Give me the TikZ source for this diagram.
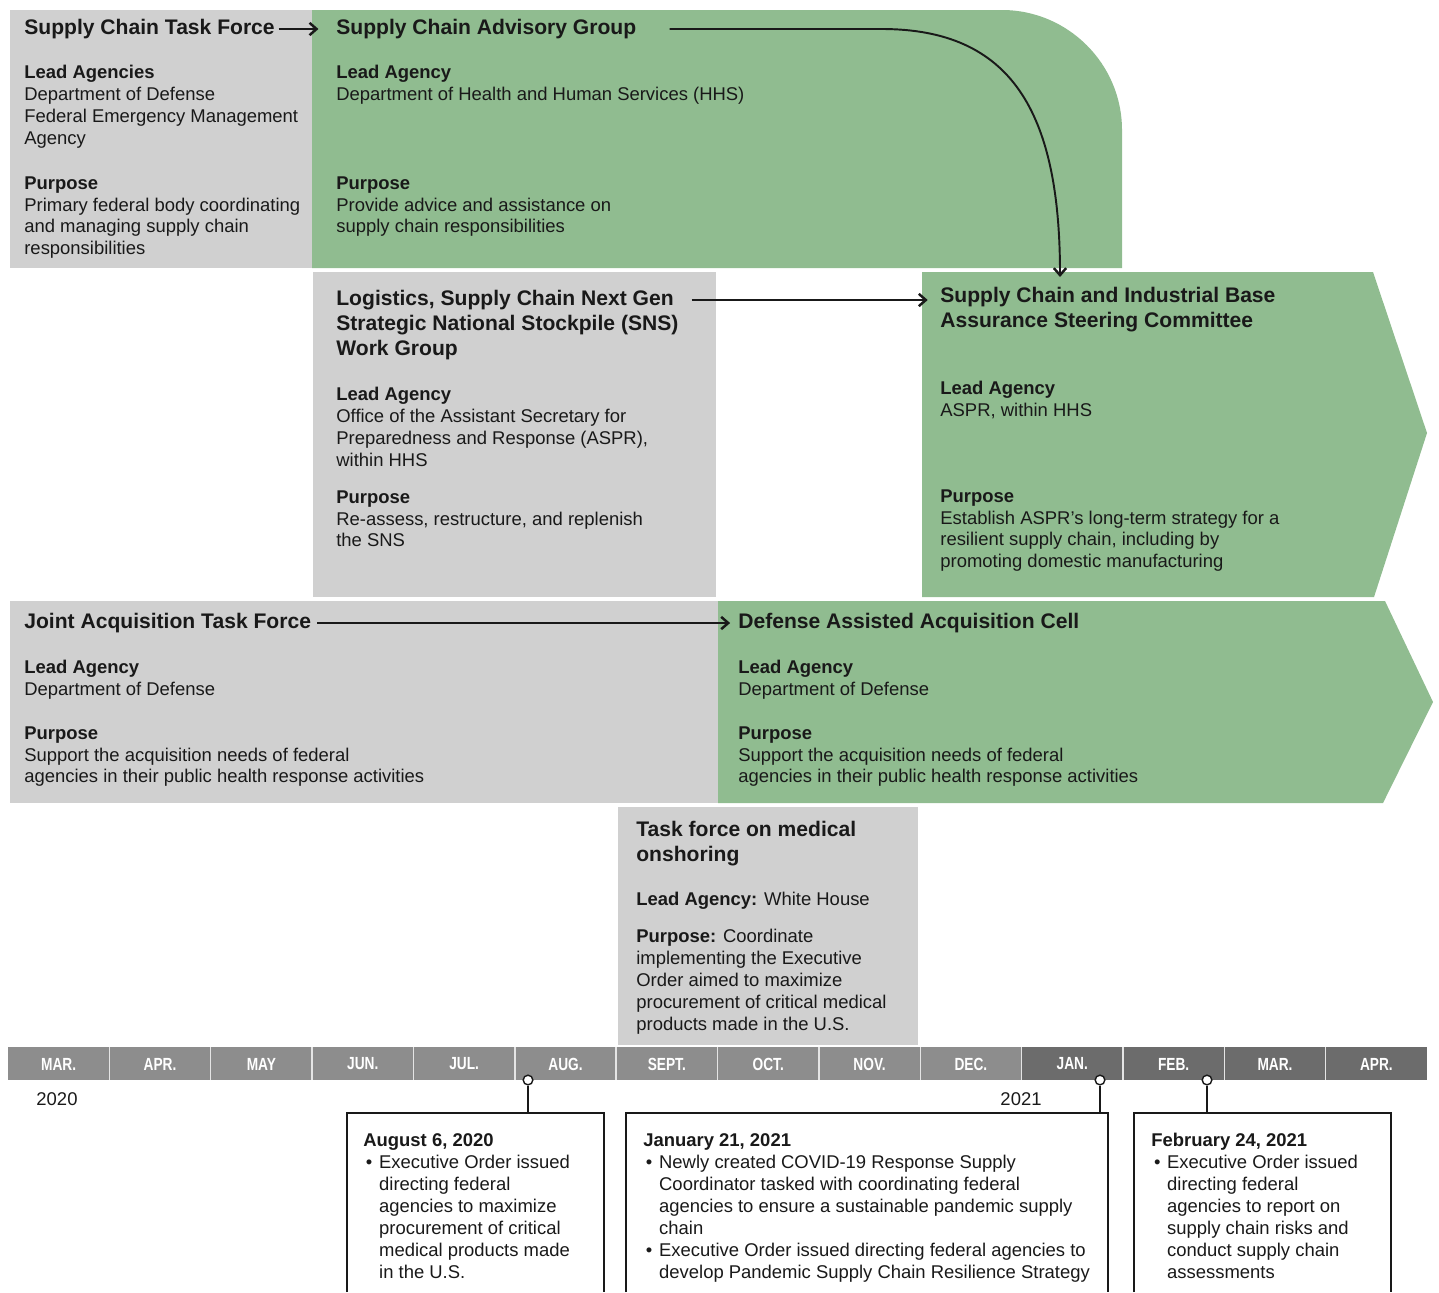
\documentclass[tikz,border=0pt]{standalone}
\usepackage{fontspec}
\setmainfont{Liberation Sans}
\newfontfamily\narrowfont[FakeStretch=0.78]{Liberation Sans}
\usepackage{xcolor}
\usetikzlibrary{arrows.meta}
\usetikzlibrary{calc}
\definecolor{boxgray}{RGB}{208,208,208}
\definecolor{boxgreen}{RGB}{144,188,144}
\definecolor{monthA}{RGB}{141,141,141}
\definecolor{monthB}{RGB}{108,108,108}
\definecolor{ink}{RGB}{25,25,25}
\newcommand{\evbullet}{\makebox[9pt][l]{\hspace{1.5pt}\textbullet}}
\newcommand{\evindent}{\hspace*{9pt}}
\tikzset{
  heading/.style={inner sep=0pt, anchor=west, text=ink, font=\bfseries\fontsize{12}{14.2}\selectfont},
  headblock/.style={heading, anchor=north west, align=left},
  body/.style={inner sep=0pt, anchor=north west, align=left, text=ink, font=\fontsize{10.5}{12.5}\selectfont},
  link/.style={-{Straight Barb[length=4pt,width=7pt,line width=1.4pt]}, line width=1.1pt, color=ink},
  month/.style={inner sep=0pt, text=white, font=\narrowfont\bfseries\fontsize{10}{12}\selectfont},
  marker/.style={circle, draw=ink, fill=white, line width=0.8pt, inner sep=0pt, minimum size=5.5pt},
}

\begin{document}
\begin{tikzpicture}[x=0.02cm, y=-0.02cm]
      \useasboundingbox (0,0) rectangle (1439,1292);
      \fill[color=boxgray] (10,10) rectangle (312,268);
      \fill[color=boxgreen] (312,10) -- (1002,10) .. controls (1068,10) and (1122,64) .. (1122,130) -- (1122,268) -- (312,268) -- cycle;
      \fill[color=boxgray] (313,272) rectangle (716,597);
      \fill[color=boxgreen] (922,272) -- (1373,272) -- (1427,433) -- (1374,597) -- (922,597) -- cycle;
      \fill[color=boxgray] (10,601) rectangle (718,803);
      \fill[color=boxgreen] (718,601) -- (1385,601) -- (1433,702) -- (1383,803) -- (718,803) -- cycle;
      \fill[color=boxgray] (618,807) rectangle (918,1045);

      \node[heading] (sctf) at (24,29) {Supply Chain Task Force};
      \node[body] (sctfla) at (24,65) {\textbf{Lead Agencies}\\Department of Defense\\Federal Emergency Management\\Agency};
      \node[body] (sctfpu) at (24,176) {\textbf{Purpose}\\Primary federal body coordinating\\and managing supply chain\\responsibilities};
      \node[heading] (scag) at (336,29) {Supply Chain Advisory Group};
      \node[body] (scagla) at (336,65) {\textbf{Lead Agency}\\Department of Health and Human Services (HHS)};
      \node[body] (scagpu) at (336,176) {\textbf{Purpose}\\Provide advice and assistance on\\supply chain responsibilities};

      \node[heading] (snsa) at (336,300) {Logistics, Supply Chain Next Gen};
      \node[headblock] (snsb) at (336,315) {Strategic National Stockpile (SNS)\\Work Group};
      \node[body] (snsla) at (336,387) {\textbf{Lead Agency}\\Office of the Assistant Secretary for\\Preparedness and Response (ASPR),\\within HHS};
      \node[body] (snspu) at (336,490) {\textbf{Purpose}\\Re-assess, restructure, and replenish\\the SNS};
      \node[headblock] (scib) at (940,287) {Supply Chain and Industrial Base\\Assurance Steering Committee};
      \node[body] (scibla) at (940,381) {\textbf{Lead Agency}\\ASPR, within HHS};
      \node[body] (scibpu) at (940,489) {\textbf{Purpose}\\Establish ASPR's long-term strategy for a\\resilient supply chain, including by\\promoting domestic manufacturing};

      \node[heading] (jatf) at (24,623) {Joint Acquisition Task Force};
      \node[body] (jatfla) at (24,660) {\textbf{Lead Agency}\\Department of Defense};
      \node[body] (jatfpu) at (24,726) {\textbf{Purpose}\\Support the acquisition needs of federal\\agencies in their public health response activities};
      \node[heading] (daac) at (738,623) {Defense Assisted Acquisition Cell};
      \node[body] (daacla) at (738,660) {\textbf{Lead Agency}\\Department of Defense};
      \node[body] (daacpu) at (738,726) {\textbf{Purpose}\\Support the acquisition needs of federal\\agencies in their public health response activities};

      \node[headblock] (tfmo) at (636,821) {Task force on medical\\onshoring};
      \node[body] (tfmola) at (636,892) {\textbf{Lead Agency:} White House};
      \node[body] (tfmopu) at (636,929) {\textbf{Purpose:} Coordinate\\implementing the Executive\\Order aimed to maximize\\procurement of critical medical\\products made in the U.S.};

      \coordinate (scibtop) at (1060,277);
      \draw[link, shorten <=2pt, shorten >=10pt] (sctf) -- (scag);
      \draw[link, shorten <=18.8pt] (scag.east) -- ++(245,0) .. controls +(130,0) and +(0,-165) .. (scibtop);
      \draw[link, shorten <=10pt, shorten >=7pt] (snsa.east) -- (snsa.east -| scib.west);
      \draw[link, shorten <=3.5pt, shorten >=4.5pt] (jatf) -- (daac);

      \foreach \m [count=\i from 0] in {MAR.,APR.,MAY,JUN.,JUL.,AUG.,SEPT.,OCT.,NOV.,DEC.,JAN.,FEB.,MAR.,APR.} {
        \ifnum\i<10 \def\mcol{monthA}\else\def\mcol{monthB}\fi
        \fill[color=\mcol] ({8+101.36*\i},1047) rectangle ({8+101.36*(\i+1)},1080);
        \node[month] (m\i) at ({8+101.36*(\i+0.5)},1064) {\m};
      }
      \foreach \i in {1,...,13}
        \draw[color=white!80!gray, line width=0.8pt] ({8+101.36*\i},1047) -- ({8+101.36*\i},1080);
      \node[body, anchor=center] (y2020) at (57,1099) {2020};
      \node[body, anchor=center] (y2021) at (1021,1099) {2021};

      \draw[color=ink, line width=1.3pt] (347,1292) -- (347,1113) -- (604,1113) -- (604,1292);
      \draw[color=ink, line width=1.3pt] (626,1292) -- (626,1113) -- (1108,1113) -- (1108,1292);
      \draw[color=ink, line width=1.3pt] (1134,1292) -- (1134,1113) -- (1391,1113) -- (1391,1292);
      \coordinate (ev1top) at (528,1113);
      \coordinate (ev2top) at (1100,1113);
      \coordinate (ev3top) at (1207,1113);
      \node[marker] (mk1) at (528,1080) {};
      \node[marker] (mk2) at (1100,1080) {};
      \node[marker] (mk3) at (1207,1080) {};
      \draw[color=ink, line width=1.1pt] (mk1) -- (ev1top);
      \draw[color=ink, line width=1.1pt] (mk2) -- (ev2top);
      \draw[color=ink, line width=1.1pt] (mk3) -- (ev3top);

      \node[body] (ev1) at (363,1133) {\textbf{August 6, 2020}\\\evbullet Executive Order issued\\\evindent directing federal\\\evindent agencies to maximize\\\evindent procurement of critical\\\evindent medical products made\\\evindent in the U.S.};
      \node[body] (ev2) at (643,1133) {\textbf{January 21, 2021}\\\evbullet Newly created COVID-19 Response Supply\\\evindent Coordinator tasked with coordinating federal\\\evindent agencies to ensure a sustainable pandemic supply\\\evindent chain\\\evbullet Executive Order issued directing federal agencies to\\\evindent develop Pandemic Supply Chain Resilience Strategy};
      \node[body] (ev3) at (1151,1133) {\textbf{February 24, 2021}\\\evbullet Executive Order issued\\\evindent directing federal\\\evindent agencies to report on\\\evindent supply chain risks and\\\evindent conduct supply chain\\\evindent assessments};
    \end{tikzpicture}
\end{document}
